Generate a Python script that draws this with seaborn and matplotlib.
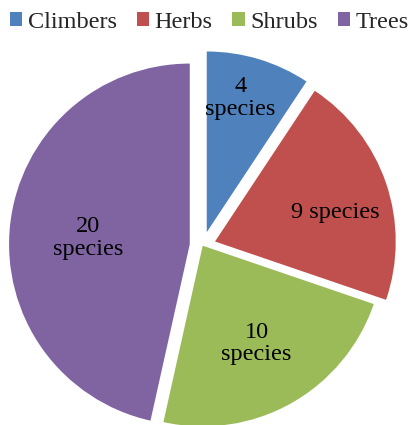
import matplotlib
matplotlib.use("Agg")
import matplotlib.pyplot as plt
import seaborn as sns
import numpy as np
from matplotlib.patches import Patch

categories = ["Climbers", "Herbs", "Shrubs", "Trees"]
species = [4, 9, 10, 20]
slice_labels = ["4\nspecies", "9 species", "10\nspecies", "20\nspecies"]
colors = ["#4F81BD", "#C0504D", "#9BBB59", "#8064A2"]

sns.set_theme(style="white")
plt.rcParams["font.family"] = ["serif"]
plt.rcParams["font.serif"] = ["Liberation Serif", "DejaVu Serif"]
FONT = "Liberation Serif"

fig = plt.figure(figsize=(4.11, 4.25), dpi=100)
ax = fig.add_axes([0, 0, 1, 1])

R = 180.7  # pixels per data unit (pie radius)
explode = [0.078, 0.072, 0.0, 0.072]
wedges, _ = ax.pie(species, colors=colors, startangle=90, counterclock=False,
                   explode=explode, radius=1.0,
                   wedgeprops=dict(linewidth=0))

label_r = [0.766, 0.687, 0.617, 0.563]
label_dang = [2.6, -5.4, -0.4, 2.7]
for w, lab, r, da in zip(wedges, slice_labels, label_r, label_dang):
    ang = np.deg2rad((w.theta1 + w.theta2) / 2 + da)
    cx, cy = w.center
    ax.text(cx + r * np.cos(ang), cy + r * np.sin(ang), lab,
            ha="center", va="center", fontsize=17.5, color="black",
            fontfamily=FONT, linespacing=1.08)

ax.set_xlim(-202.7 / R, (411 - 202.7) / R)
ax.set_ylim(-(425 - 245.7) / R, 245.7 / R)
ax.set_aspect("auto")
ax.axis("off")

handles = [Patch(facecolor=c, edgecolor="none") for c in colors]
fig.legend(handles, categories, loc="center left",
           bbox_to_anchor=(10 / 411, 1 - 22 / 425),
           ncol=4, frameon=False, prop={"family": FONT, "size": 17.5},
           handlelength=0.5, handleheight=0.5, handletextpad=0.23,
           columnspacing=0.82, borderpad=0.0, borderaxespad=0.0)

fig.savefig("out.png", dpi=100)
